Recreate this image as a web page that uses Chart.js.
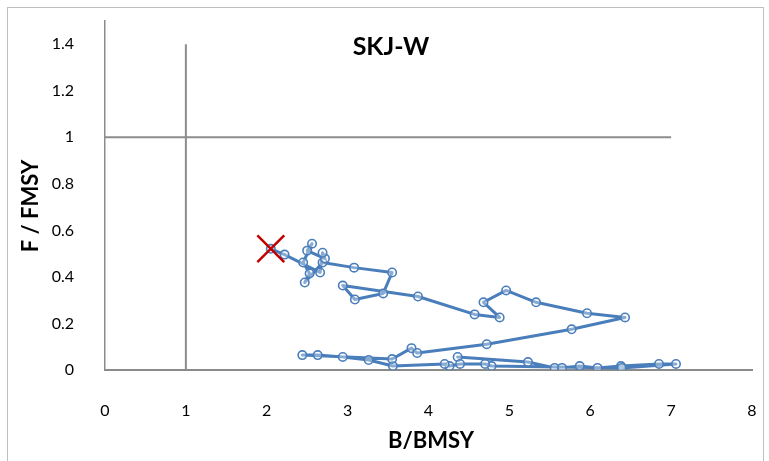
<!DOCTYPE html>
<html>
<head>
<meta charset="utf-8">
<script src="https://cdn.jsdelivr.net/npm/chart.js@4.4.1/dist/chart.umd.min.js"></script>
<style>
  html, body { margin: 0; padding: 0; background: #fff; }
  #wrap { width: 769px; height: 461px; position: relative; }
</style>
</head>
<body>
<div id="wrap"><canvas id="c" width="769" height="461"></canvas></div>
<script>
// Stock trajectory: biomass ratio (x) and fishing mortality ratio (y), in time order
const bRatio = [4.36, 5.23, 5.56, 5.65, 5.87, 6.09, 6.38, 6.85, 7.06, 6.39,
                4.78, 4.70, 4.39, 4.26, 4.20, 3.56, 3.26, 2.94, 2.63, 2.44,
                3.55, 3.79, 3.86, 4.72, 5.77, 6.43, 5.96, 5.33, 4.96, 4.68,
                4.88, 4.57, 3.87, 2.94, 3.09, 3.44, 3.55, 3.08, 2.69, 2.47,
                2.53, 2.45, 2.56, 2.50, 2.72, 2.69, 2.66, 2.22, 2.05];
const fRatio = [0.056, 0.034, 0.009, 0.009, 0.017, 0.009, 0.017, 0.026, 0.026, 0.009,
                0.017, 0.026, 0.026, 0.017, 0.026, 0.017, 0.043, 0.056, 0.064, 0.064,
                0.047, 0.094, 0.073, 0.111, 0.175, 0.226, 0.244, 0.291, 0.342, 0.291,
                0.226, 0.239, 0.316, 0.363, 0.303, 0.329, 0.419, 0.440, 0.462, 0.376,
                0.415, 0.462, 0.543, 0.513, 0.479, 0.504, 0.419, 0.496, 0.521];

// Reference lines at B/BMSY = 1 and F/FMSY = 1
const vRefX = [1, 1];
const vRefY = [0, 1.4];
const hRefX = [0, 7];
const hRefY = [1, 1];

const xTicks = [0, 1, 2, 3, 4, 5, 6, 7, 8];
const yTicks = [0, 0.2, 0.4, 0.6, 0.8, 1, 1.2, 1.4];

const chartTitle = 'SKJ-W';
const xTitle = 'B/BMSY';
const yTitle = 'F / FMSY';

const FONT = 'Lato, "Open Sans", "DejaVu Sans", sans-serif';
const BLUE = '#4a7ebb';
const GREY = '#8c8c8c';

const toPts = (xs, ys) => xs.map((x, i) => ({ x: x, y: ys[i] }));
const last = bRatio.length - 1;

const textPlugin = {
  id: 'frameAndText',
  afterDraw(chart) {
    const ctx = chart.ctx;
    ctx.save();
    // outer frame
    ctx.strokeStyle = '#bfbfbf';
    ctx.lineWidth = 1;
    ctx.strokeRect(7.5, 7.5, 756, 460);
    ctx.fillStyle = '#000';
    ctx.textAlign = 'center';
    ctx.textBaseline = 'middle';
    // chart title inside plot area
    ctx.font = 'bold 25px ' + FONT;
    ctx.fillText(chartTitle, 391, 47);
    // x axis title
    ctx.font = 'bold 22px ' + FONT;
    ctx.fillText(xTitle, 431, 441);
    // y axis title
    ctx.translate(31, 206);
    ctx.rotate(-Math.PI / 2);
    ctx.fillText(yTitle, 0, 0);
    ctx.restore();
  }
};

new Chart(document.getElementById('c'), {
  type: 'scatter',
  data: {
    datasets: [
      {
        label: 'latest',
        data: [{ x: bRatio[last], y: fRatio[last] }],
        pointStyle: 'crossRot',
        pointRadius: 19,
        pointBorderWidth: 2.5,
        pointBorderColor: '#c00000',
        pointBackgroundColor: '#c00000',
        showLine: false,
        order: 0
      },
      {
        label: 'trajectory',
        data: toPts(bRatio, fRatio),
        showLine: true,
        borderColor: BLUE,
        borderWidth: 3,
        borderJoinStyle: 'round',
        borderCapStyle: 'round',
        pointStyle: 'circle',
        pointRadius: 4.2,
        pointBorderWidth: 1.6,
        pointBorderColor: BLUE,
        pointBackgroundColor: 'rgba(255,255,255,0.35)',
        tension: 0,
        order: 1
      },
      {
        label: 'B ref',
        data: toPts(vRefX, vRefY),
        showLine: true,
        borderColor: GREY,
        borderWidth: 2,
        pointRadius: 0,
        order: 2
      },
      {
        label: 'F ref',
        data: toPts(hRefX, hRefY),
        showLine: true,
        borderColor: GREY,
        borderWidth: 2,
        pointRadius: 0,
        order: 2
      }
    ]
  },
  options: {
    responsive: false,
    animation: false,
    events: [],
    layout: { autoPadding: false, padding: { left: 0, top: 21, right: 17, bottom: 0 } },
    plugins: {
      legend: { display: false },
      tooltip: { enabled: false },
      title: { display: false }
    },
    scales: {
      x: {
        type: 'linear',
        min: 0,
        max: 8,
        afterFit(s) { s.height = 91; s.paddingLeft = 0; s.paddingRight = 0; },
        afterBuildTicks(s) { s.ticks = xTicks.map(v => ({ value: v })); },
        grid: { display: false },
        border: { display: true, color: '#8a8a8a', width: 2 },
        ticks: {
          padding: 23,
          color: '#000',
          font: { family: FONT, size: 16 },
          callback: v => String(v)
        }
      },
      y: {
        type: 'linear',
        min: 0,
        max: 1.5,
        afterFit(s) { s.width = 105; s.paddingTop = 0; s.paddingBottom = 0; },
        afterBuildTicks(s) { s.ticks = yTicks.map(v => ({ value: v })); },
        grid: { display: false },
        border: { display: true, color: GREY, width: 1.5 },
        ticks: {
          padding: 23,
          color: '#000',
          font: { family: FONT, size: 16 },
          callback: v => String(Number(v.toFixed(1)))
        }
      }
    }
  },
  plugins: [textPlugin]
});
</script>
</body>
</html>
